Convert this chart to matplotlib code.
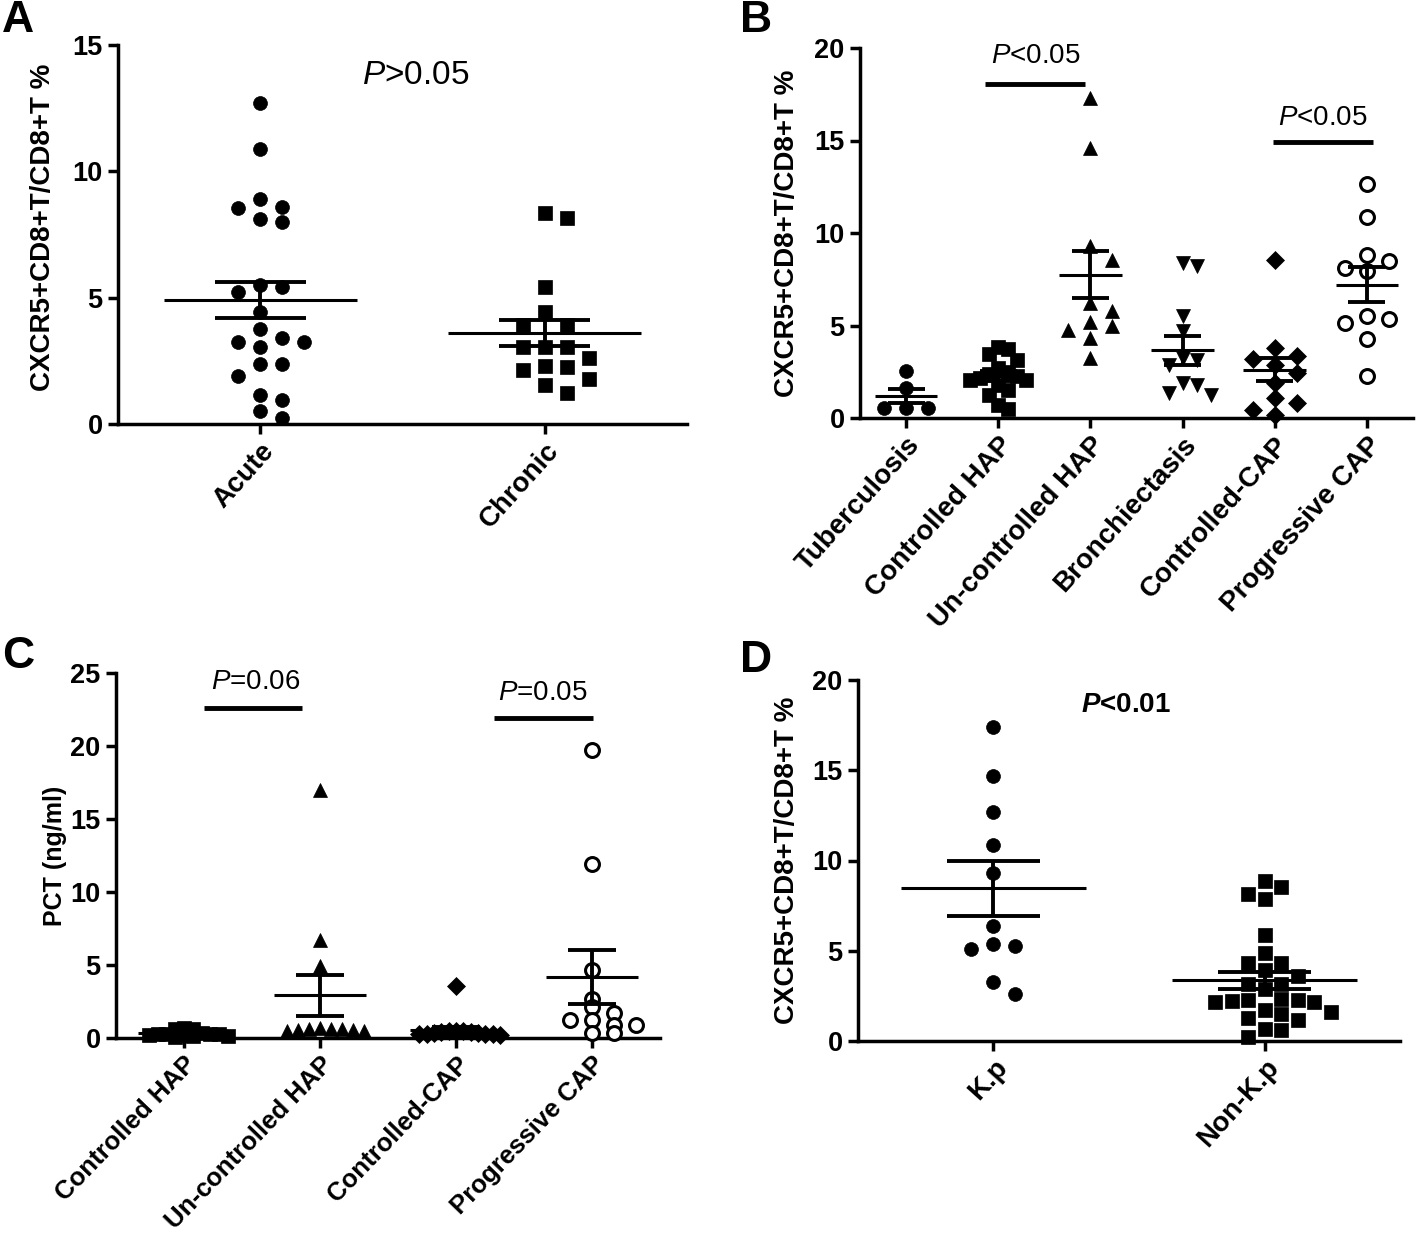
import numpy as np
import matplotlib
matplotlib.use("Agg")
import matplotlib.pyplot as plt

plt.rcParams['font.family'] = ['Liberation Sans', 'DejaVu Sans']
plt.rcParams['mathtext.fontset'] = 'custom'
plt.rcParams['mathtext.rm'] = 'Liberation Sans'
plt.rcParams['mathtext.it'] = 'Liberation Sans:italic'
plt.rcParams['mathtext.bf'] = 'Liberation Sans:bold'
plt.rcParams['mathtext.bfit'] = 'Liberation Sans:bold:italic'

# ---- Panel A data
a_cats = ['Acute', 'Chronic']
a_acute = [12.69, 10.88, 8.89, 8.60, 8.53, 8.10, 8.01, 5.50, 5.43, 5.24, 4.44, 3.76,
           3.39, 3.26, 3.23, 3.03, 2.36, 2.36, 1.91, 1.15, 0.95, 0.51, 0.25]
a_chronic = [8.36, 8.14, 5.43, 4.44, 3.92, 3.92, 3.06, 3.06, 3.06, 2.60, 2.30, 2.24,
             2.14, 1.77, 1.54, 1.21]
a_mean = [4.91, 3.59]
a_sem = [0.72, 0.52]

# ---- Panel B data
b_cats = ['Tuberculosis', 'Controlled HAP', 'Un-controlled HAP', 'Bronchiectasis',
          'Controlled-CAP', 'Progressive CAP']
b_tb = [2.52, 1.62, 0.54, 0.54, 0.54]
b_chap = [3.84, 3.73, 3.48, 3.15, 2.70, 2.50, 2.36, 2.25, 2.16, 2.07, 2.07, 1.80,
          1.53, 1.26, 0.72, 0.50]
b_uhap = [17.3, 14.6, 9.3, 8.56, 6.2, 5.76, 5.17, 4.95, 4.77, 4.32, 3.24]
b_bron = [8.38, 8.2, 5.49, 4.68, 3.24, 3.15, 2.88, 1.89, 1.8, 1.35, 1.26]
b_ccap = [8.56, 3.78, 3.33, 3.2, 2.88, 2.43, 1.89, 1.08, 0.81, 0.45, 0.18]
b_pcap = [12.65, 10.84, 8.83, 8.47, 8.11, 7.93, 5.49, 5.35, 5.14, 4.27, 2.25]
b_mean = [1.17, 2.25, 7.75, 3.65, 2.6, 7.2]
b_sem = [0.38, 0.27, 1.26, 0.8, 0.62, 0.95]

# ---- Panel C data
c_cats = ['Controlled HAP', 'Un-controlled HAP', 'Controlled-CAP', 'Progressive CAP']
c_chap = [0.7, 0.65, 0.6, 0.35, 0.3, 0.3, 0.25, 0.25, 0.2, 0.2, 0.15, 0.15, 0.1]
c_uhap = [17.0, 6.7, 4.9, 0.7, 0.65, 0.6, 0.6, 0.55, 0.55, 0.5, 0.45]
c_ccap = [3.55, 0.5, 0.45, 0.45, 0.4, 0.4, 0.35, 0.35, 0.3, 0.3, 0.25, 0.25, 0.2]
c_pcap = [19.7, 11.9, 4.64, 2.7, 2.13, 1.72, 1.26, 1.26, 0.87, 0.87, 0.32, 0.32]
c_mean = [0.32, 2.93, 0.53, 4.19]
c_sem = [0.06, 1.4, 0.25, 1.84]

# ---- Panel D data
d_cats = ['K.p', 'Non-K.p']
d_kp = [17.4, 14.7, 12.7, 10.85, 9.28, 6.36, 5.35, 5.25, 5.07, 3.27, 2.59]
d_nonkp = [8.86, 8.54, 8.12, 7.84, 5.86, 4.88, 4.33, 4.33, 3.92, 3.6, 3.18, 3.18,
           2.9, 2.35, 2.26, 2.26, 2.2, 2.16, 2.16, 1.7, 1.6, 1.52, 1.3, 1.15, 0.69,
           0.6, 0.22]
d_mean = [8.45, 3.37]
d_sem = [1.5, 0.48]

W, H = 1418, 1249
fig = plt.figure(figsize=(W / 100, H / 100), dpi=100)


def add_ax(left, top, right, bottom):
    return fig.add_axes([left / W, 1 - bottom / H, (right - left) / W, (bottom - top) / H])


def swarm(ax, values, slot_px=22, marker_px=14, max_px=60):
    # simple greedy beeswarm in pixel space, returns x offsets in data units
    bb = ax.get_position()
    x0, x1 = ax.get_xlim()
    y0, y1 = ax.get_ylim()
    px_x = bb.width * W / (x1 - x0)
    px_y = bb.height * H / (y1 - y0)
    vals = np.asarray(values, dtype=float)
    order = np.argsort(-vals, kind='stable')
    slots = np.zeros(len(vals))
    placed = []
    cands = [0]
    for k in range(1, 30):
        cands += [k, -k]
    for i in order:
        y = vals[i] * px_y
        for c in cands:
            if all(not (s == c and abs(yy - y) < marker_px) for s, yy in placed):
                break
        placed.append((c, y))
        slots[i] = c
    m = np.abs(slots).max()
    step = slot_px if m * slot_px <= max_px else max_px / m
    return slots * step / px_x


def style(ax, cats, ymax, ystep, xfs=20, rot=48):
    ax.set_xlim(-0.5, len(cats) - 0.5)
    ax.set_ylim(0, ymax)
    ax.set_yticks(np.arange(0, ymax + 0.1, ystep))
    ax.set_xticks(range(len(cats)))
    ax.set_xticklabels(cats, rotation=rot, ha='right', va='top', rotation_mode='anchor',
                       fontsize=xfs, fontweight='bold')
    for lab in ax.get_yticklabels():
        lab.set_fontweight('bold')
        lab.set_fontsize(19.5)
    for s in ['top', 'right']:
        ax.spines[s].set_visible(False)
    for s in ['left', 'bottom']:
        ax.spines[s].set_linewidth(2.5)
    ax.tick_params(width=2.5, length=7, pad=4)
    ax.tick_params(axis='x', pad=3)


def draw_groups(ax, groups, markers, means, sems, max_px, cap=0.17, ms=10, mpx=14):
    for i, (vals, mk) in enumerate(zip(groups, markers)):
        off = swarm(ax, vals, max_px=max_px, marker_px=mpx)
        open_mk = mk == 'open'
        ax.plot(i + off, vals, ls='none', marker='o' if open_mk else mk,
                ms=ms if mk != 'D' else ms * 0.95,
                mfc='white' if open_mk else 'black', mec='black',
                mew=2.2 if open_mk else 0.5, clip_on=False, zorder=3)
        m, s = means[i], sems[i]
        ax.hlines(m, i - 0.34, i + 0.34, color='black', lw=2.2, zorder=4)
        ax.hlines([m - s, m + s], i - cap, i + cap, color='black', lw=2.8, zorder=4)
        ax.vlines(i, m - s, m + s, color='black', lw=2.8, zorder=4)


ylab = 'CXCR5+CD8+T/CD8+T %'

# Panel A
axA = add_ax(118, 45, 687, 424)
style(axA, a_cats, 15, 5)
draw_groups(axA, [a_acute, a_chronic], ['o', 's'], a_mean, a_sem, max_px=60, cap=0.16)
axA.set_ylabel(ylab, fontsize=20, fontweight='bold')
axA.yaxis.set_label_coords(-0.109, 0.52)
axA.text(0.546, 13.8, r'$\mathit{P}$>0.05', ha='center', va='center', fontsize=24)

# Panel B
axB = add_ax(860, 48, 1413, 418)
style(axB, b_cats, 20, 5)
draw_groups(axB, [b_tb, b_chap, b_uhap, b_bron, b_ccap, b_pcap],
            ['o', 's', '^', 'v', 'D', 'open'], b_mean, b_sem, max_px=28, cap=0.2)
axB.set_ylabel(ylab, fontsize=20, fontweight='bold')
axB.yaxis.set_label_coords(-0.108, 0.5)
axB.plot([0.86, 1.94], [18.05, 18.05], color='black', lw=3.5, solid_capstyle='butt')
axB.text(1.41, 19.55, r'$\mathit{P}$<0.05', ha='center', va='center', fontsize=20)
axB.plot([3.98, 5.07], [14.92, 14.92], color='black', lw=3.5, solid_capstyle='butt')
axB.text(4.52, 16.23, r'$\mathit{P}$<0.05', ha='center', va='center', fontsize=20)

# Panel C
axC = add_ax(116, 673, 660, 1038)
style(axC, c_cats, 25, 5, xfs=18.5, rot=46)
draw_groups(axC, [c_chap, c_uhap, c_ccap, c_pcap], ['s', '^', 'D', 'open'],
            c_mean, c_sem, max_px=44, cap=0.18, mpx=7)
axC.set_ylabel('PCT (ng/ml)', fontsize=18, fontweight='bold')
axC.yaxis.set_label_coords(-0.09, 0.5)
axC.plot([0.15, 0.87], [22.6, 22.6], color='black', lw=3.5, solid_capstyle='butt')
axC.text(0.53, 24.4, r'$\mathit{P}$=0.06', ha='center', va='center', fontsize=20)
axC.plot([2.28, 3.01], [21.95, 21.95], color='black', lw=3.5, solid_capstyle='butt')
axC.text(2.64, 23.6, r'$\mathit{P}$=0.05', ha='center', va='center', fontsize=20)

# Panel D
axD = add_ax(858, 680, 1400, 1041)
style(axD, d_cats, 20, 5)
draw_groups(axD, [d_kp, d_nonkp], ['o', 's'], d_mean, d_sem, max_px=66, cap=0.17)
axD.set_ylabel(ylab, fontsize=20, fontweight='bold')
axD.yaxis.set_label_coords(-0.107, 0.5)
axD.text(0.49, 18.6, r'$\mathbfit{P}$<0.01', ha='center', va='center', fontsize=20,
         fontweight='bold')

# panel letters
for letter, x, y in [('A', 2, 0), ('B', 740, 0), ('C', 2, 636), ('D', 740, 640)]:
    fig.text(x / W, 1 - y / H, letter, fontsize=32, fontweight='bold', ha='left', va='top')

fig.savefig('out.png', dpi=100)
